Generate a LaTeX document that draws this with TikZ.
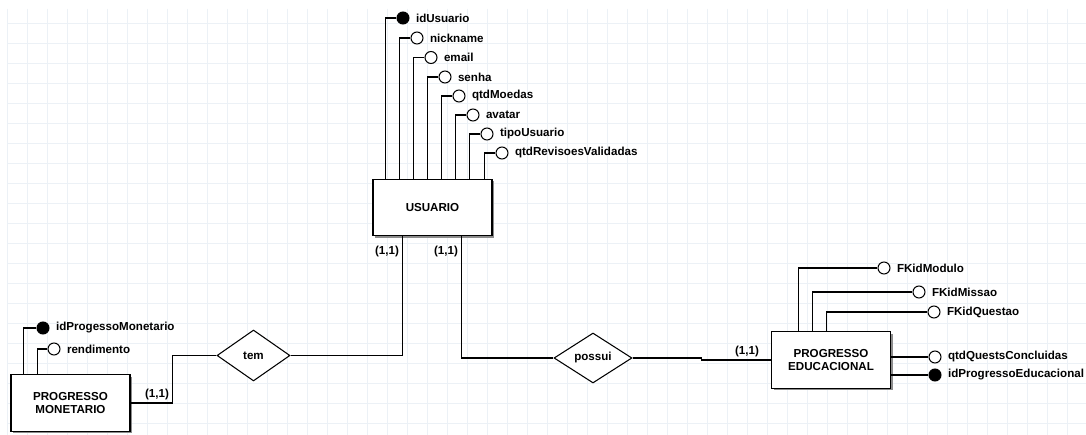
\documentclass[tikz,border=0pt]{standalone}
\usepackage{fontspec}
\setmainfont{Liberation Sans}
\usepackage{tikz}
\usetikzlibrary{positioning,calc,shapes.geometric,shadows}
\definecolor{gridc}{RGB}{236,241,246}
\definecolor{shadowc}{RGB}{140,140,140}

\begin{document}
\begin{tikzpicture}[
  x=0.02cm, y=-0.02cm,
  every node/.style={font=\fontsize{6.6}{7.7}\selectfont\bfseries},
  entity/.style={draw, line width=0.65pt, fill=white, align=center,
    minimum width=2.38cm, minimum height=1.13cm,
    drop shadow={shadow xshift=1.2pt, shadow yshift=-1.2pt,
      fill=shadowc, opacity=1}},
  relation/.style={draw, diamond, line width=0.6pt, fill=white, inner sep=0pt},
  attr/.style={draw, circle, line width=0.6pt, fill=white,
    minimum size=0.24cm, inner sep=0pt},
  keyattr/.style={attr, fill=black},
  attrtxt/.style={inner sep=0pt, anchor=west},
  card/.style={inner sep=0pt},
  conn/.style={line width=0.6pt}
]

% Background: page and grid
\useasboundingbox (0,0) rectangle (1086,435);
\fill[white] (0,0) rectangle (1086,435);
\foreach \gx in {7,27,...,1086}
  \draw[gridc, line width=0.5pt] (\gx,9) -- (\gx,435);
\foreach \gy in {23,43,...,435}
  \draw[gridc, line width=0.5pt] (7,\gy) -- (1086,\gy);

% Entities
\node[entity] (usuario) at (432.5,207.5) {USUARIO};
\node[entity] (pm) at (70.5,403) {PROGRESSO\\MONETARIO};
\node[entity] (pe) at (831,360) {PROGRESSO\\EDUCACIONAL};

% Relationships
\node[relation, minimum width=1.46cm, minimum height=1.02cm] (tem) at (253.5,355.5) {tem};
\node[relation, minimum width=1.56cm, minimum height=1.0cm] (possui) at (593,358) {possui};

% USUARIO attributes
\node[keyattr] (u1) at (403,18) {};
\node[attrtxt, right=3.5pt of u1] (u1t) {idUsuario};
\node[attr] (u2) at (417,38) {};
\node[attrtxt, right=3.5pt of u2] (u2t) {nickname};
\node[attr] (u3) at (431,57.5) {};
\node[attrtxt, right=3.5pt of u3] (u3t) {email};
\node[attr] (u4) at (445,77) {};
\node[attrtxt, right=3.5pt of u4] (u4t) {senha};
\node[attr] (u5) at (459,96) {};
\node[attrtxt, right=3.5pt of u5] (u5t) {qtdMoedas};
\node[attr] (u6) at (473,115) {};
\node[attrtxt, right=3.5pt of u6] (u6t) {avatar};
\node[attr] (u7) at (487,134) {};
\node[attrtxt, right=3.5pt of u7] (u7t) {tipoUsuario};
\node[attr] (u8) at (502,153) {};
\node[attrtxt, right=3.5pt of u8] (u8t) {qtdRevisoesValidadas};

\draw[conn] (u1) -| ($(usuario.north west)+(13,0)$);
\draw[conn] (u2) -| ($(usuario.north west)+(27,0)$);
\draw[conn] (u3) -| ($(usuario.north west)+(41,0)$);
\draw[conn] (u4) -| ($(usuario.north west)+(55,0)$);
\draw[conn] (u5) -| ($(usuario.north west)+(69,0)$);
\draw[conn] (u6) -| ($(usuario.north west)+(83,0)$);
\draw[conn] (u7) -| ($(usuario.north west)+(97,0)$);
\draw[conn] (u8) -| ($(usuario.north west)+(112,0)$);

% PROGRESSO MONETARIO attributes
\node[keyattr] (m1) at (43,328) {};
\node[attrtxt, right=3.5pt of m1] (m1t) {idProgessoMonetario};
\node[attr] (m2) at (54,349) {};
\node[attrtxt, right=3.5pt of m2] (m2t) {rendimento};
\draw[conn] (m1) -| ($(pm.north west)+(13,0)$);
\draw[conn] (m2) -| ($(pm.north west)+(27,0)$);

% PROGRESSO EDUCACIONAL attributes
\node[attr] (e1) at (884,268) {};
\node[attrtxt, right=3.5pt of e1] (e1t) {FKidModulo};
\node[attr] (e2) at (919,292) {};
\node[attrtxt, right=3.5pt of e2] (e2t) {FKidMissao};
\node[attr] (e3) at (934,312) {};
\node[attrtxt, right=3.5pt of e3] (e3t) {FKidQuestao};
\node[attr] (e4) at (935,357) {};
\node[attrtxt, right=3.5pt of e4] (e4t) {qtdQuestsConcluidas};
\node[keyattr] (e5) at (935,375) {};
\node[attrtxt, right=3.5pt of e5] (e5t) {idProgressoEducacional};

\draw[conn] (e1) -| ($(pe.north west)+(28,0)$);
\draw[conn] (e2) -| ($(pe.north west)+(42,0)$);
\draw[conn] (e3) -| ($(pe.north west)+(56,0)$);
\draw[conn] (e4) -- (pe.east |- e4);
\draw[conn] (e5) -- (pe.east |- e5);

% USUARIO -- tem -- PROGRESSO MONETARIO
\draw[conn] ($(usuario.south west)+(30,0)$) |- (tem.east);
\draw[conn] (tem.west) -- ++(-44,0) |- (pm.east);
\node[card] (c1) at (387,252) {(1,1)};
\node[card] (c2) at (157,395) {(1,1)};

% USUARIO -- possui -- PROGRESSO EDUCACIONAL
\draw[conn] ($(usuario.south west)+(89,0)$) |- (possui.west);
\draw[conn] (possui.east) -- ++(69,0) |- (pe.west);
\node[card] (c3) at (446,252) {(1,1)};
\node[card] (c4) at (747,352) {(1,1)};

\end{tikzpicture}
\end{document}
